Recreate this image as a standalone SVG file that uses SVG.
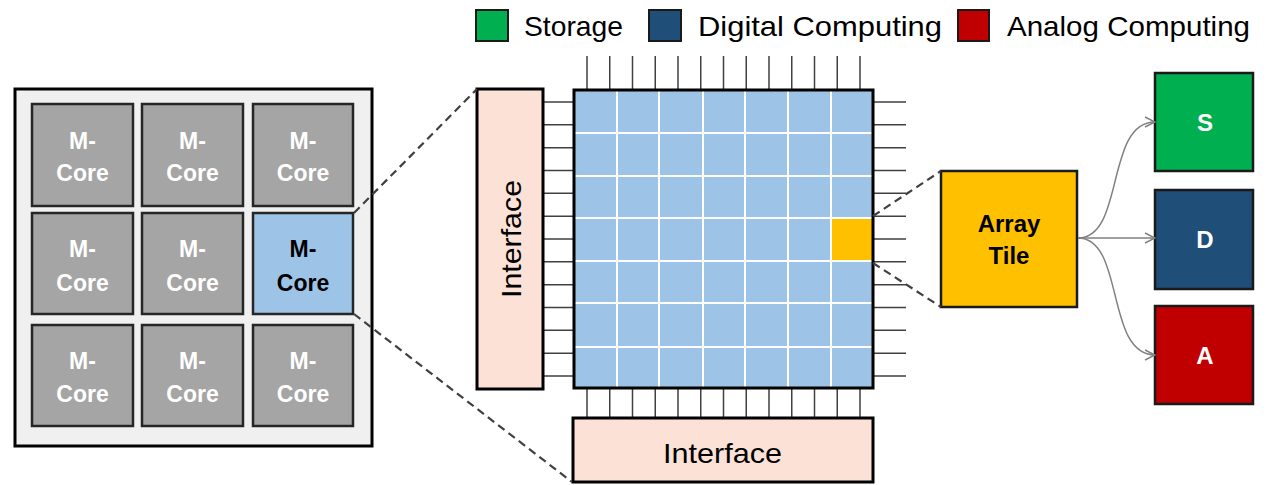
<svg xmlns="http://www.w3.org/2000/svg" width="1270" height="485" viewBox="0 0 1270 485">
<defs>
<style>
.core{fill:#a5a5a5;stroke:#262626;stroke-width:2.5}
.hl{fill:#9dc3e6;stroke:#262626;stroke-width:2.5}
.ct{font-family:"Liberation Sans",Arial,sans-serif;font-weight:bold;font-size:23px;fill:#fff;text-anchor:middle}
.ctb{fill:#000}
.pin{stroke:#404040;stroke-width:1.5}
.grid{stroke:#fff;stroke-width:2}
.dash{fill:none;stroke:#404040;stroke-width:2.2;stroke-dasharray:8,5}
.arr{fill:none;stroke:#808080;stroke-width:1.5;marker-end:url(#ah)}
.lg{font-family:"Liberation Sans",Arial,sans-serif;font-size:28px;fill:#000}
.ifc{fill:#fbe1d6;stroke:#000;stroke-width:3}
.big{font-family:"Liberation Sans",Arial,sans-serif;font-weight:bold;font-size:24px;text-anchor:middle}
</style>
<marker id="ah" viewBox="0 0 12 12" refX="11" refY="6" markerWidth="12" markerHeight="12" markerUnits="userSpaceOnUse" orient="auto">
<path d="M1,1 L11,6 L1,11" fill="none" stroke="#808080" stroke-width="1.5"/>
</marker>
</defs>
<rect width="1270" height="485" fill="#fff"/>

<g id="legend">
<rect x="476" y="10" width="32" height="31" fill="#00b050" stroke="#1a1a1a" stroke-width="2"/>
<text class="lg" x="524" y="36" textLength="99" lengthAdjust="spacingAndGlyphs">Storage</text>
<rect x="649" y="10" width="32" height="31" fill="#1f4e79" stroke="#1a1a1a" stroke-width="2"/>
<text class="lg" x="698" y="36" textLength="244" lengthAdjust="spacingAndGlyphs">Digital Computing</text>
<rect x="958" y="10" width="31" height="31" fill="#c00000" stroke="#1a1a1a" stroke-width="2"/>
<text class="lg" x="1007" y="36" textLength="243" lengthAdjust="spacingAndGlyphs">Analog Computing</text>
</g>

<g id="chip">
<rect x="15" y="89" width="357" height="357" fill="#f0f0f0" stroke="#000" stroke-width="3"/>
</g>
<g id="cores">
<g id="core11"><rect class="core" x="32" y="104" width="101" height="102"/><text class="ct" x="82.5" y="149">M-</text><text class="ct" x="82.5" y="181">Core</text></g>
<g id="core12"><rect class="core" x="142" y="104" width="101" height="102"/><text class="ct" x="192.5" y="149">M-</text><text class="ct" x="192.5" y="181">Core</text></g>
<g id="core13"><rect class="core" x="253" y="104" width="100" height="102"/><text class="ct" x="303" y="149">M-</text><text class="ct" x="303" y="181">Core</text></g>
<g id="core21"><rect class="core" x="32" y="213" width="101" height="101"/><text class="ct" x="82.5" y="257">M-</text><text class="ct" x="82.5" y="291">Core</text></g>
<g id="core22"><rect class="core" x="142" y="213" width="101" height="101"/><text class="ct" x="192.5" y="257">M-</text><text class="ct" x="192.5" y="291">Core</text></g>
<g id="core23"><rect class="hl" x="253" y="213" width="100" height="101"/><text class="ct ctb" x="303" y="257">M-</text><text class="ct ctb" x="303" y="291">Core</text></g>
<g id="core31"><rect class="core" x="32" y="325" width="101" height="101"/><text class="ct" x="82.5" y="369">M-</text><text class="ct" x="82.5" y="402">Core</text></g>
<g id="core32"><rect class="core" x="142" y="325" width="101" height="101"/><text class="ct" x="192.5" y="369">M-</text><text class="ct" x="192.5" y="402">Core</text></g>
<g id="core33"><rect class="core" x="253" y="325" width="100" height="101"/><text class="ct" x="303" y="369">M-</text><text class="ct" x="303" y="402">Core</text></g>
</g>

<g id="pins">
<path class="pin" d="M587,56V90 M609.75,56V90 M632.5,56V90 M655.25,56V90 M678,56V90 M700.75,56V90 M723.5,56V90 M746.25,56V90 M769,56V90 M791.75,56V90 M814.5,56V90 M837.25,56V90 M860,56V90"/>
<path class="pin" d="M587,388V418 M609.75,388V418 M632.5,388V418 M655.25,388V418 M678,388V418 M700.75,388V418 M723.5,388V418 M746.25,388V418 M769,388V418 M791.75,388V418 M814.5,388V418 M837.25,388V418 M860,388V418"/>
<path class="pin" d="M543,102H574 M543,124.8H574 M543,147.7H574 M543,170.5H574 M543,193.3H574 M543,216.2H574 M543,239H574 M543,261.8H574 M543,284.7H574 M543,307.5H574 M543,330.3H574 M543,353.2H574 M543,376H574"/>
<path class="pin" d="M873,102H906 M873,124.8H906 M873,147.7H906 M873,170.5H906 M873,193.3H906 M873,216.2H906 M873,239H906 M873,261.8H906 M873,284.7H906 M873,307.5H906 M873,330.3H906 M873,353.2H906 M873,376H906"/>
</g>

<g id="array">
<rect x="574" y="90" width="299" height="298" fill="#9dc3e6"/>
<rect x="831" y="218" width="42" height="43" fill="#ffc000"/>
<path class="grid" d="M617,90V388 M659,90V388 M703,90V388 M745,90V388 M788,90V388 M831,90V388 M574,133H873 M574,176H873 M574,218H873 M574,261H873 M574,303H873 M574,347H873"/>
<rect x="574" y="90" width="299" height="298" fill="none" stroke="#000" stroke-width="3"/>
</g>

<g id="interface-left">
<rect class="ifc" x="477" y="89" width="66" height="300"/>
<text class="lg" transform="translate(521,239) rotate(-90)" text-anchor="middle" textLength="118" lengthAdjust="spacingAndGlyphs">Interface</text>
</g>
<g id="interface-bottom">
<rect class="ifc" x="573" y="418" width="300" height="64"/>
<text class="lg" x="722.5" y="463" text-anchor="middle" textLength="119" lengthAdjust="spacingAndGlyphs">Interface</text>
</g>

<g id="array-tile">
<rect x="941" y="171" width="136" height="136" fill="#ffc000" stroke="#1a1a1a" stroke-width="2.5"/>
<text class="big" x="1009" y="232" fill="#000">Array</text>
<text class="big" x="1009" y="264" fill="#000">Tile</text>
</g>
<g id="S">
<rect x="1155" y="73" width="98" height="98" fill="#00b050" stroke="#1a1a1a" stroke-width="2.5"/>
<text class="big" x="1205" y="131" fill="#fff">S</text>
</g>
<g id="D">
<rect x="1155" y="190" width="98" height="99" fill="#1f4e79" stroke="#1a1a1a" stroke-width="2.5"/>
<text class="big" x="1205" y="248" fill="#fff">D</text>
</g>
<g id="A">
<rect x="1155" y="306" width="98" height="98" fill="#c00000" stroke="#1a1a1a" stroke-width="2.5"/>
<text class="big" x="1205" y="364" fill="#fff">A</text>
</g>

<g id="connectors">
<path class="dash" d="M354,213 L477,89"/>
<path class="dash" d="M354,314 L572,482"/>
<path class="dash" d="M873,216 L941,171"/>
<path class="dash" d="M873,263 L941,307"/>
<path class="arr" d="M1078,238 C1125,238 1105,122 1155,122"/>
<path class="arr" d="M1078,238 L1155,238"/>
<path class="arr" d="M1078,238 C1125,238 1105,355 1155,355"/>
</g>
</svg>
